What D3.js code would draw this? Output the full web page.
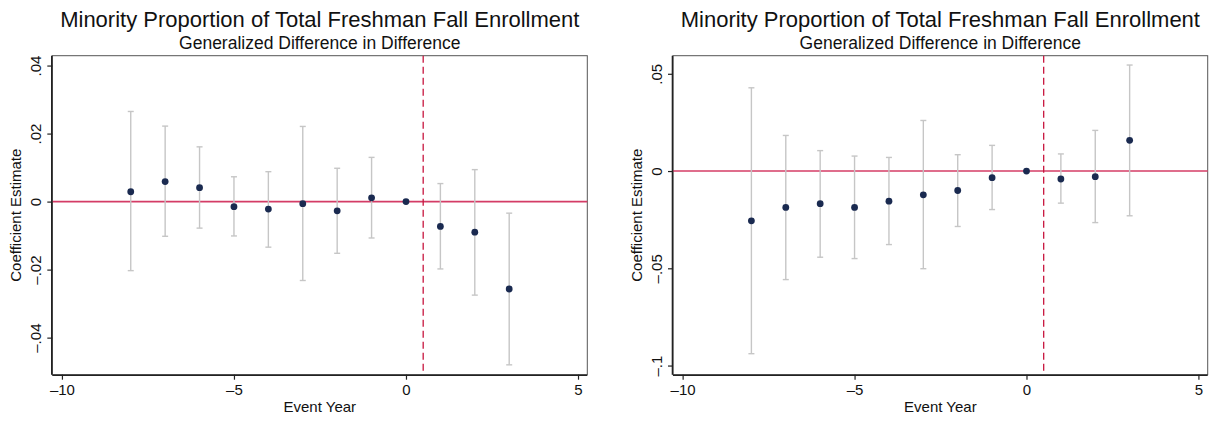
<!DOCTYPE html>
<html>
<head>
<meta charset="utf-8">
<script src="https://cdn.jsdelivr.net/npm/d3@7"></script>
<style>
  body { margin: 0; background: #fff; }
  svg { display: block; font-family: "Liberation Sans", Arial, sans-serif; }
</style>
</head>
<body>
<svg id="chart" width="1211" height="422"></svg>
<script>
// ========= Data ========= //
const eventYears = [-8, -7, -6, -5, -4, -3, -2, -1, 0, 1, 2, 3];

// left panel
const leftCoef = [0.0029, 0.0059, 0.0041, -0.0015, -0.0022, -0.0006, -0.0027, 0.0011, 0, -0.0073, -0.0090, -0.0257];
const leftLow  = [-0.0203, -0.0102, -0.0078, -0.0101, -0.0134, -0.0232, -0.0152, -0.0107, null, -0.0198, -0.0275, -0.0480];
const leftHigh = [0.0265, 0.0222, 0.0161, 0.0073, 0.0088, 0.0221, 0.0098, 0.0130, null, 0.0053, 0.0094, -0.0034];
const leftYTicks = [0.04, 0.02, 0, -0.02, -0.04];
const leftYLabels = ['.04', '.02', '0', '\u2013.02', '\u2013.04'];

// right panel
const rightCoef = [-0.0256, -0.0187, -0.0168, -0.0187, -0.0155, -0.0122, -0.0100, -0.0034, 0, -0.0041, -0.0029, 0.0158];
const rightLow  = [-0.0939, -0.0558, -0.0443, -0.0450, -0.0378, -0.0502, -0.0285, -0.0198, null, -0.0165, -0.0265, -0.0230];
const rightHigh = [0.0428, 0.0183, 0.0105, 0.0077, 0.0070, 0.0260, 0.0084, 0.0132, null, 0.0088, 0.0209, 0.0545];
const rightYTicks = [0.05, 0, -0.05, -0.1];
const rightYLabels = ['.05', '0', '\u2013.05', '\u2013.1'];

const xTicks = [-10, -5, 0, 5];
const xLabels = ['\u201310', '\u20135', '0', '5'];
const treatLine = 0.5;

const titleText = 'Minority Proportion of Total Freshman Fall Enrollment';
const subtitleText = 'Generalized Difference in Difference';
const xTitle = 'Event Year';
const yTitle = 'Coefficient Estimate';

// ========= Setup ========= //
const svg = d3.select('#chart');
const plotTop = 55.7, plotBottom = 374.7;

function drawPanel(left, right, coef, low, high, yDomain, yTicks, yLabels) {
  const rows = eventYears.map((e, i) => ({ e, c: coef[i], lo: low[i], hi: high[i] }));

  const x = d3.scaleLinear().domain([-10.28, 5.27]).range([left, right]);
  const y = d3.scaleLinear().domain(yDomain).range([plotBottom, plotTop]);
  const cx = (left + right) / 2;

  const g = svg.append('g');

  // frame
  g.append('rect')
    .attr('x', left).attr('y', plotTop)
    .attr('width', right - left).attr('height', plotBottom - plotTop)
    .attr('fill', 'none')
    .attr('stroke', '#555')
    .attr('stroke-width', 1);

  // zero line
  g.append('line')
    .attr('x1', left).attr('x2', right)
    .attr('y1', y(0)).attr('y2', y(0))
    .attr('stroke', '#d43c66')
    .attr('stroke-width', 1.6);

  // treatment line
  g.append('line')
    .attr('x1', x(treatLine)).attr('x2', x(treatLine))
    .attr('y1', plotTop).attr('y2', plotBottom)
    .attr('stroke', '#c8163f')
    .attr('stroke-width', 1.3)
    .attr('stroke-dasharray', '7,4');

  // error bars
  const bars = g.append('g').attr('class', 'ci')
    .selectAll('g')
    .data(rows.filter(d => d.lo !== null))
    .join('g')
      .attr('stroke', '#c6c6c6')
      .attr('stroke-width', 1.4);
  bars.append('line')
    .attr('x1', d => x(d.e)).attr('x2', d => x(d.e))
    .attr('y1', d => y(d.lo)).attr('y2', d => y(d.hi));
  bars.append('line')
    .attr('x1', d => x(d.e) - 3).attr('x2', d => x(d.e) + 3)
    .attr('y1', d => y(d.lo)).attr('y2', d => y(d.lo));
  bars.append('line')
    .attr('x1', d => x(d.e) - 3).attr('x2', d => x(d.e) + 3)
    .attr('y1', d => y(d.hi)).attr('y2', d => y(d.hi));

  // points
  g.append('g')
    .selectAll('circle')
    .data(rows)
    .join('circle')
      .attr('cx', d => x(d.e))
      .attr('cy', d => y(d.c))
      .attr('r', 3.4)
      .attr('fill', '#1a2a50');

  // x axis
  const xAxis = g.append('g')
    .attr('transform', `translate(0,${plotBottom})`)
    .call(d3.axisBottom(x).tickValues(xTicks).tickSize(5).tickSizeOuter(0)
      .tickFormat((d, i) => xLabels[i]));
  xAxis.select('.domain')
    .attr('d', `M${left},0.5H${right}`)
    .attr('stroke', '#222').attr('stroke-width', 1.6);
  xAxis.selectAll('.tick line').attr('stroke', '#222').attr('stroke-width', 1.2);
  xAxis.selectAll('.tick text')
    .attr('y', 20)
    .attr('dy', 0)
    .attr('fill', '#111')
    .attr('font-size', 15)
    .attr('font-family', '"Liberation Sans", Arial, sans-serif');

  // y axis
  const yAxis = g.append('g')
    .attr('transform', `translate(${left},0)`)
    .call(d3.axisLeft(y).tickValues(yTicks).tickSize(5).tickSizeOuter(0)
      .tickFormat((d, i) => yLabels[i]));
  yAxis.select('.domain')
    .attr('d', `M-0.5,${plotTop}V${plotBottom}`)
    .attr('stroke', '#222').attr('stroke-width', 1.6);
  yAxis.selectAll('.tick line').attr('stroke', '#222').attr('stroke-width', 1.2);
  yAxis.selectAll('.tick text')
    .attr('transform', 'rotate(-90)')
    .attr('x', 0)
    .attr('y', -11)
    .attr('dy', 0)
    .attr('text-anchor', 'middle')
    .attr('fill', '#111')
    .attr('font-size', 15)
    .attr('font-family', '"Liberation Sans", Arial, sans-serif');

  // titles
  g.append('text')
    .attr('x', cx).attr('y', 27)
    .attr('text-anchor', 'middle')
    .attr('font-size', 22)
    .attr('fill', '#111')
    .text(titleText);
  g.append('text')
    .attr('x', cx).attr('y', 48.5)
    .attr('text-anchor', 'middle')
    .attr('font-size', 17.5)
    .attr('fill', '#111')
    .text(subtitleText);
  g.append('text')
    .attr('x', cx).attr('y', 412)
    .attr('text-anchor', 'middle')
    .attr('font-size', 15)
    .attr('fill', '#111')
    .text(xTitle);
  g.append('text')
    .attr('transform', `translate(${left - 31},${(plotTop + plotBottom) / 2}) rotate(-90)`)
    .attr('text-anchor', 'middle')
    .attr('font-size', 15)
    .attr('fill', '#111')
    .text(yTitle);
}

drawPanel(52.3, 587.3, leftCoef, leftLow, leftHigh, [-0.0509, 0.0429], leftYTicks, leftYLabels);
drawPanel(673, 1207.7, rightCoef, rightLow, rightHigh, [-0.1047, 0.0593], rightYTicks, rightYLabels);
</script>
</body>
</html>
